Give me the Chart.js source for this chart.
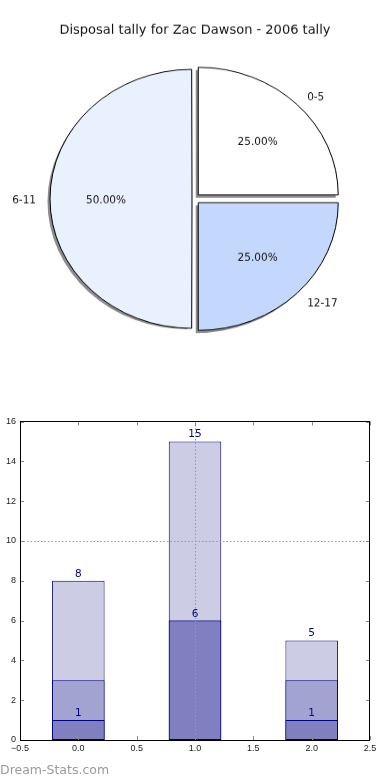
<!DOCTYPE html>
<html>
<head>
<meta charset="utf-8">
<script src="https://cdn.jsdelivr.net/npm/chart.js@4.4.0/dist/chart.umd.min.js"></script>
<style>
body { margin: 0; background: #fff; width: 390px; height: 780px; position: relative; overflow: hidden; }
#pizza { position: absolute; left: 0; top: 0; transform: scaleY(0.912); transform-origin: 0 0; }
#barras { position: absolute; left: 0; top: 400px; }
#marca { position: absolute; left: 0; top: 762px; font: 12.5px 'DejaVu Sans'; color: #9a9a9a; }
</style>
</head>
<body>
<canvas id="pizza" width="390" height="440"></canvas>
<canvas id="barras" width="390" height="360"></canvas>
<div id="marca">Dream-Stats.com</div>
<script>
const titulo = 'Disposal tally for Zac Dawson - 2006 tally';
const faixas = ['0-5', '6-11', '12-17'];
const disposals = [1, 2, 1];
const coresFatias = ['#ffffff', '#eaf1fe', '#c4d8fe'];

const posicoes = [0, 1, 2];
const totais = [8, 15, 5];
const medios = [3, 6, 3];
const escuros = [1, 6, 1];
const gradeY = [10];
const gradeX = [1];

const ESCALA = 0.912; // a pizza do original é achatada na vertical

function deslocamento(arc) {
    // mesmo deslocamento que o ArcElement aplica com "offset"
    const meio = (arc.startAngle + arc.endAngle) / 2;
    const circ = arc.endAngle - arc.startAngle;
    const o = (arc.options.offset || 0) / 4;
    const t = o + o * (1 - Math.sin(Math.min(Math.PI, circ)));
    return { dx: Math.cos(meio) * t, dy: Math.sin(meio) * t, meio: meio };
}

function escreve(ctx, texto, x, y, alinhamento, fonte) {
    ctx.save();
    ctx.translate(x, y);
    ctx.scale(1, 1 / ESCALA);
    ctx.font = fonte;
    ctx.textAlign = alinhamento;
    ctx.textBaseline = 'middle';
    ctx.fillText(texto, 0, 1.5);
    ctx.restore();
}

const sombraPizza = {
    id: 'sombraPizza',
    beforeDatasetsDraw(chart) {
        const ctx = chart.ctx;
        ctx.save();
        ctx.fillStyle = 'rgba(0,0,0,0.45)';
        chart.getDatasetMeta(0).data.forEach(arc => {
            const p = deslocamento(arc);
            const cx = arc.x + p.dx - 2.5;
            const cy = arc.y + p.dy + 3;
            ctx.beginPath();
            ctx.moveTo(cx, cy);
            ctx.arc(cx, cy, arc.outerRadius, arc.startAngle, arc.endAngle);
            ctx.closePath();
            ctx.fill();
        });
        ctx.restore();
    }
};

const textosPizza = {
    id: 'textosPizza',
    afterDraw(chart) {
        const ctx = chart.ctx;
        const meta = chart.getDatasetMeta(0);
        const valores = chart.data.datasets[0].data;
        const soma = valores.reduce((a, b) => a + b, 0);
        const fonte = '10.5px "DejaVu Sans"';
        ctx.save();
        ctx.fillStyle = '#111';
        escreve(ctx, titulo, 195, 29 / ESCALA, 'center', '13px "DejaVu Sans"');
        meta.data.forEach((arc, i) => {
            const p = deslocamento(arc);
            const c = Math.cos(p.meio), s = Math.sin(p.meio);
            const R = arc.outerRadius;
            const pct = (100 * valores[i] / soma).toFixed(2) + '%';
            escreve(ctx, chart.data.labels[i], arc.x + p.dx + c * 1.1 * R, arc.y + p.dy + s * 1.1 * R,
                c > 0 ? 'left' : 'right', fonte);
            escreve(ctx, pct, arc.x + p.dx + c * 0.6 * R, arc.y + p.dy + s * 0.6 * R, 'center', fonte);
        });
        ctx.restore();
    }
};

// chart.js desenha no sentido horário a partir das 3 horas, então invertemos a ordem
const ordem = [2, 1, 0];
new Chart(document.getElementById('pizza'), {
    type: 'pie',
    data: {
        labels: ordem.map(i => faixas[i]),
        datasets: [{
            data: ordem.map(i => disposals[i]),
            backgroundColor: ordem.map(i => coresFatias[i]),
            borderColor: '#000',
            borderWidth: 1,
            offset: [24, 8, 24],
            radius: 140,
        }]
    },
    options: {
        responsive: false,
        devicePixelRatio: 1,
        animation: false,
        events: [],
        rotation: 90,
        radius: 140,
        layout: { padding: { left: 0, right: 2, top: 0, bottom: 4 } },
        plugins: { legend: { display: false }, tooltip: { enabled: false } }
    },
    plugins: [sombraPizza, textosPizza]
});

const molduraBarras = {
    id: 'molduraBarras',
    afterDatasetsDraw(chart) {
        const ctx = chart.ctx;
        const a = chart.chartArea;
        const x = chart.scales.x, y = chart.scales.y;
        const linha = (x1, y1, x2, y2) => { ctx.beginPath(); ctx.moveTo(x1, y1); ctx.lineTo(x2, y2); ctx.stroke(); };
        ctx.save();
        ctx.lineWidth = 1;

        // grade pontilhada
        ctx.strokeStyle = '#999999';
        ctx.setLineDash([1.5, 2]);
        gradeY.forEach(v => { const py = Math.round(y.getPixelForValue(v)) + 0.5; linha(a.left, py, a.right, py); });
        gradeX.forEach(v => { const px = Math.round(x.getPixelForValue(v)) + 0.5; linha(px, a.top, px, a.bottom); });
        ctx.setLineDash([]);

        // marcas dos ticks para dentro
        ctx.strokeStyle = '#8a8a8a';
        y.ticks.forEach(t => {
            const py = Math.round(y.getPixelForValue(t.value)) + 0.5;
            linha(a.left, py, a.left + 4, py);
            linha(a.right - 4, py, a.right, py);
        });
        x.ticks.forEach(t => {
            const px = Math.round(x.getPixelForValue(t.value)) + 0.5;
            linha(px, a.bottom, px, a.bottom - 4);
            linha(px, a.top, px, a.top + 4);
        });

        // moldura
        ctx.strokeStyle = '#000';
        ctx.strokeRect(Math.round(a.left) + 0.5, Math.floor(a.top) + 0.5,
            Math.round(a.right) - Math.round(a.left) - 1, Math.round(a.bottom) - Math.floor(a.top));

        // valores
        ctx.fillStyle = '#000080';
        ctx.font = '10.5px "DejaVu Sans"';
        ctx.textAlign = 'center';
        ctx.textBaseline = 'bottom';
        chart.data.datasets.forEach((ds, i) => {
            if (!ds.rotulos) return;
            chart.getDatasetMeta(i).data.forEach((bar, j) => {
                ctx.fillText(String(ds.data[j].y), bar.x, bar.y - 1.5);
            });
        });
        ctx.restore();
    }
};

const fonteTicks = { family: 'Liberation Sans', size: 9 };
new Chart(document.getElementById('barras'), {
    type: 'bar',
    data: {
        datasets: [
            { data: posicoes.map((p, i) => ({ x: p, y: escuros[i] })), backgroundColor: '#8080c0', rotulos: true },
            { data: posicoes.map((p, i) => ({ x: p, y: medios[i] })), backgroundColor: '#a3a3d1' },
            { data: posicoes.map((p, i) => ({ x: p, y: totais[i] })), backgroundColor: '#cccce5', rotulos: true }
        ]
    },
    options: {
        responsive: false,
        devicePixelRatio: 1,
        animation: false,
        events: [],
        layout: { padding: { top: 21.5, right: 20, left: 0, bottom: 0 } },
        datasets: {
            bar: {
                grouped: false,
                categoryPercentage: 1,
                barPercentage: 0.9, // a régua usa o passo dos ticks (0.5), então 0.9 -> 0.45 unidade
                borderColor: '#000080',
                borderWidth: 1,
                borderSkipped: false
            }
        },
        scales: {
            x: {
                type: 'linear',
                offset: false,
                min: -0.5,
                max: 2.5,
                grid: { display: false, drawTicks: false },
                border: { display: false },
                ticks: {
                    stepSize: 0.5,
                    padding: 3,
                    color: '#222',
                    font: fonteTicks,
                    maxRotation: 0,
                    callback: v => (v < 0 ? '\u2212' : '') + Math.abs(v).toFixed(1)
                },
                afterFit(s) { s.height = 20; }
            },
            y: {
                min: 0,
                max: 16,
                grid: { display: false, drawTicks: false },
                border: { display: false },
                ticks: { stepSize: 2, padding: 4, color: '#222', font: fonteTicks },
                afterFit(s) { s.width = 20; }
            }
        },
        plugins: { legend: { display: false }, tooltip: { enabled: false } }
    },
    plugins: [molduraBarras]
});
</script>
</body>
</html>
